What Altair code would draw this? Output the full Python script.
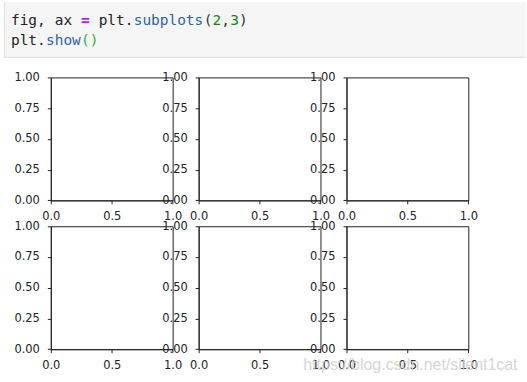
import altair as alt
import pandas as pd

# ---- data ----
x_lim = [0.0, 1.0]
y_lim = [0.0, 1.0]
x_ticks = [0.0, 0.5, 1.0]
y_ticks = [0.0, 0.25, 0.5, 0.75, 1.0]

# code cell tokens
tok_text = ["fig,", "ax", "=", "plt.", "subplots", "(", "2", ",", "3", ")", "plt.", "show", "()"]
tok_col = [0, 5, 8, 10, 14, 22, 23, 24, 25, 26, 0, 4, 8]
tok_line = [0, 0, 0, 0, 0, 0, 0, 0, 0, 0, 1, 1, 1]
tok_color = ["#222222", "#222222", "#aa22ff", "#222222", "#2a64ad", "#333333", "#118811",
             "#333333", "#118811", "#333333", "#222222", "#2a64ad", "#22bb22"]
tok_bold = [False, False, True, False, False, False, False, False, False, False, False, False, False]

watermark = "https://blog.csdn.net/silent1cat"

W, H = 122.3, 123.4
GAP = 25.4

limits = pd.DataFrame({"x": x_lim, "y": y_lim})
tokens = pd.DataFrame({"text": tok_text, "col": tok_col, "line": tok_line,
                       "color": tok_color, "bold": tok_bold})


def panel():
    return alt.Chart(limits).mark_point(opacity=0).encode(
        x=alt.X("x:Q", scale=alt.Scale(domain=x_lim, nice=False, zero=False),
                axis=alt.Axis(values=x_ticks, format=".1f", title=None, labelPadding=7, grid=False)),
        y=alt.Y("y:Q", scale=alt.Scale(domain=y_lim, nice=False, zero=False),
                axis=alt.Axis(values=y_ticks, format=".2f", title=None, labelPadding=8, grid=False)),
    ).properties(width=W, height=H)


# code cell (drawn relative to the first panel)
one = pd.DataFrame({"k": [0]})
box = alt.Chart(one).mark_rect(fill="#f5f5f5").encode(
    x=alt.value(-47), x2=alt.value(477), y=alt.value(-75.7), y2=alt.value(-19.7))
box_left = alt.Chart(one).mark_rule(color="#e0e0e0", strokeWidth=1).encode(
    x=alt.value(-46.5), y=alt.value(-75.7), y2=alt.value(-19.7))
box_bottom = alt.Chart(one).mark_rule(color="#e0e0e0", strokeWidth=1).encode(
    x=alt.value(-47), x2=alt.value(477), y=alt.value(-20.2))


def code_text(bold):
    return alt.Chart(tokens).transform_filter(
        alt.datum.bold if bold else ~alt.datum.bold
    ).mark_text(align="left", baseline="alphabetic", font="DejaVu Sans Mono",
                fontSize=14.5, fontWeight="bold" if bold else "normal").encode(
        x=alt.X("col:Q", scale=alt.Scale(domain=[0, 1], range=[-40, -31.2]), axis=None),
        y=alt.Y("line:Q", scale=alt.Scale(domain=[0, 1], range=[-53, -33]), axis=None),
        text="text:N",
        color=alt.Color("color:N", scale=None),
    )


p1 = alt.layer(panel(), box, box_left, box_bottom, code_text(False), code_text(True)).resolve_scale(
    x="independent", y="independent")

wm = alt.Chart(one).mark_text(align="right", baseline="alphabetic", font="Liberation Sans",
                              fontSize=16, color="#cfcfcf", opacity=0.85).encode(
    x=alt.value(171.7), y=alt.value(144.3), text=alt.value(watermark))
p6 = alt.layer(panel(), wm)

chart = alt.concat(p1, panel(), panel(), panel(), panel(), p6,
                   columns=3, spacing=GAP, bounds="flush").properties(
    padding={"left": 3, "top": 0, "right": 0, "bottom": 0},
    background="white",
).configure_view(stroke="#222222", strokeWidth=1).configure_axis(
    domainColor="#222222", domainWidth=1, tickColor="#222222", tickWidth=1, tickSize=3.5,
    labelFont="DejaVu Sans", labelFontSize=11.5, labelColor="#222222",
    grid=False, labelFlush=False, labelOverlap=False
)

chart.save("out.html", embed_options={"renderer": "svg", "actions": False})
